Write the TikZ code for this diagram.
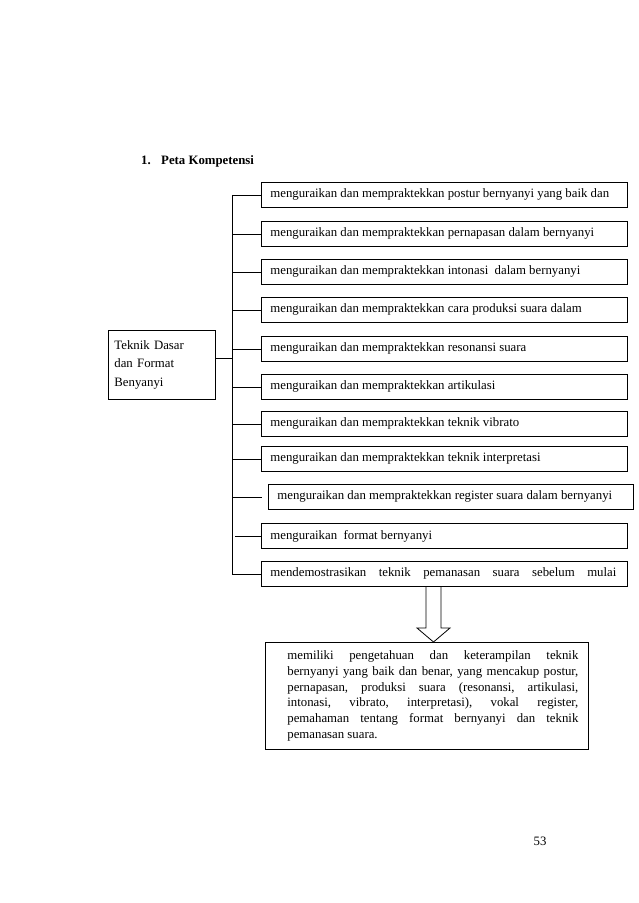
\documentclass[tikz,border=0pt]{standalone}
\usepackage{fontspec}
\setmainfont{Liberation Serif}
\newcommand\fs{\fontsize{12.8}{15.8}\selectfont}
\tikzset{
  ln/.style={line width=0.8pt},
  kbox/.style={draw, ln, anchor=north west, minimum height=25pt, inner xsep=9pt, inner ysep=0pt,
    font=\fs},
}
\newcommand\bt[2][348pt]{\makebox[#1][l]{#2}}
\newcommand\jl[1]{\hbox to 303pt{\hskip12pt #1}}
\begin{document}
\begin{tikzpicture}[x=1pt,y=-1pt]
\fill[white] (0,0) rectangle (638,903);
\useasboundingbox (0,0) rectangle (638,903);
% title
\node[anchor=base west, font=\fs\bfseries, inner sep=0] (t1) at (141,164) {1.};
\node[anchor=base west, font=\fs\bfseries, inner sep=0] (t2) at (161,164) {Peta Kompetensi};
% boxes
\node[kbox] (b1) at (261,182) {\bt{menguraikan dan mempraktekkan postur bernyanyi yang baik dan}};
\node[kbox] (b2) at (261,221) {\bt{menguraikan dan mempraktekkan pernapasan dalam bernyanyi}};
\node[kbox] (b3) at (261,259) {\bt{menguraikan dan mempraktekkan intonasi\ \ dalam bernyanyi}};
\node[kbox] (b4) at (261,297) {\bt{menguraikan dan mempraktekkan cara produksi suara dalam}};
\node[kbox] (b5) at (261,336) {\bt{menguraikan dan mempraktekkan resonansi suara}};
\node[kbox] (b6) at (261,374) {\bt{menguraikan dan mempraktekkan artikulasi}};
\node[kbox] (b7) at (261,411) {\bt{menguraikan dan mempraktekkan teknik vibrato}};
\node[kbox] (b8) at (261,446) {\bt{menguraikan dan mempraktekkan teknik interpretasi}};
\node[kbox] (b9) at (268,484) {\bt[347pt]{menguraikan dan mempraktekkan register suara dalam bernyanyi}};
\node[kbox] (b10) at (261,523) {\bt{menguraikan\ \ format bernyanyi}};
\node[kbox] (b11) at (261,561) {\hbox to 348pt{mendemostrasikan\hfill teknik\hfill pemanasan\hfill suara\hfill sebelum\hfill mulai\hskip2pt}};
% left box
\node[draw, ln, anchor=north west, minimum width=107pt, minimum height=69pt, inner xsep=6pt,
  text width=95pt, align=left, font=\fontsize{12.8}{18.5}\selectfont] (L) at (108,330)
  {Teknik Dasar\\dan Format\\Benyanyi};
% connectors
\coordinate (tr) at (232,0);
\coordinate (lj) at (232,358);
\draw[ln] (tr |- b1.west) -- (tr |- b11.west);
\draw[ln] (L.east |- lj) -- (lj);
\foreach \b in {b1,b2,b3,b4,b5,b6,b7,b8,b11}{
  \draw[ln] (tr |- \b.west) -- (\b.west);
}
\coordinate (e9) at (262,0);
\draw[ln] (tr |- b9.west) -- (e9 |- b9.west);
\coordinate (s10) at (235,0);
\draw[ln] (s10 |- b10.west) -- (b10.west);
% bottom box
\node[draw, ln, anchor=north west, minimum width=323pt, minimum height=107pt, inner xsep=10pt,
  inner ysep=0pt, align=left, font=\fs] (R) at (265,642)
  {\jl{memiliki\hfill pengetahuan\hfill dan\hfill keterampilan\hfill teknik}\\
   \jl{bernyanyi\hfill yang\hfill baik\hfill dan\hfill benar,\hfill yang\hfill mencakup\hfill postur,}\\
   \jl{pernapasan,\hfill produksi\hfill suara\hfill (resonansi,\hfill artikulasi,}\\
   \jl{intonasi,\hfill vibrato,\hfill interpretasi),\hfill vokal\hfill register,}\\
   \jl{pemahaman\hfill tentang\hfill format\hfill bernyanyi\hfill dan\hfill teknik}\\
   \jl{pemanasan suara.\hfill}};
% hollow arrow
\draw[ln, line join=miter] (426,0 |- b11.south) -- (426,628) -- (417,628) -- (433.5,0 |- R.north)
  -- (450,628) -- (441,628) -- (441,0 |- b11.south);
% page number
\node[anchor=base, font=\fs, inner sep=0] (pg) at (540,845) {53};
\end{tikzpicture}
\end{document}
